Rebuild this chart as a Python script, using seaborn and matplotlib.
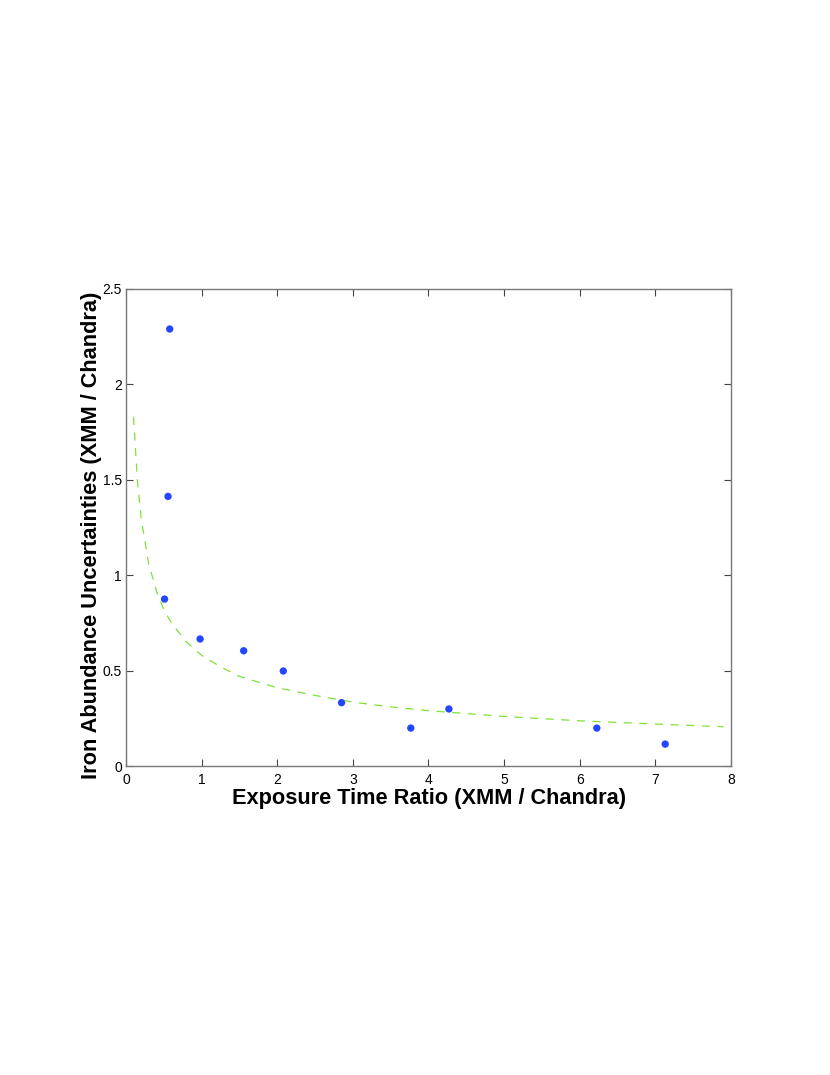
import matplotlib
matplotlib.use("Agg")
import matplotlib.pyplot as plt
import seaborn as sns
import pandas as pd

# Measured points
exposure_ratio = [0.578, 0.556, 0.51, 0.98, 1.556, 2.08, 2.85, 3.766, 4.27, 6.226, 7.13]
fe_uncertainty = [2.29, 1.413, 0.875, 0.666, 0.604, 0.498, 0.332, 0.199, 0.299, 0.199, 0.115]

# Dashed trend curve
curve_x = [0.1, 0.15, 0.2, 0.3, 0.4, 0.5, 0.6, 0.8, 1.0, 1.25, 1.5, 2.0, 2.5, 3.0, 3.5, 4.0, 5.0, 6.0, 7.0, 7.9]
curve_y = [1.83, 1.50, 1.30, 1.06, 0.92, 0.82, 0.75, 0.65, 0.58, 0.52, 0.47, 0.41, 0.37, 0.335, 0.31, 0.29, 0.26, 0.237, 0.22, 0.206]

x_ticks = [0, 1, 2, 3, 4, 5, 6, 7, 8]
y_ticks = [0, 0.5, 1, 1.5, 2, 2.5]
y_tick_labels = ["0", "0.5", "1", "1.5", "2", "2.5"]

sns.set_theme(style="white")
plt.rcParams["font.family"] = ["Liberation Sans", "DejaVu Sans"]
plt.rcParams["text.color"] = "black"
plt.rcParams["axes.labelcolor"] = "black"

fig = plt.figure(figsize=(8.3, 10.75), dpi=100)
ax = fig.add_axes([0.1518, 0.2874, 0.8807 - 0.1518, 0.7312 - 0.2874])

pts = pd.DataFrame({"x": exposure_ratio, "y": fe_uncertainty})
crv = pd.DataFrame({"x": curve_x, "y": curve_y})

sns.lineplot(data=crv, x="x", y="y", ax=ax, color="#7ee23a", linestyle=(0, (6.5, 6)),
             linewidth=0.9, sort=False)
sns.scatterplot(data=pts, x="x", y="y", ax=ax, color="#2446ff", s=28, edgecolor="none", zorder=3)

ax.set_xlim(0, 8)
ax.set_ylim(0, 2.5)
ax.set_xticks(x_ticks)
ax.set_xticklabels([str(t) for t in x_ticks])
ax.set_yticks(y_ticks)
ax.set_yticklabels(y_tick_labels)

ax.tick_params(direction="in", length=5, width=0.8, colors="#444444", labelcolor="black",
               labelsize=10, top=True, right=True, bottom=True, left=True, pad=3)
ax.tick_params(axis="x", pad=5)
for s in ax.spines.values():
    s.set_color("#777777")
    s.set_linewidth(1.0)

ax.set_xlabel("Exposure Time Ratio (XMM / Chandra)", fontsize=15.7, fontweight="bold")
ax.set_ylabel("Iron Abundance Uncertainties (XMM / Chandra)", fontsize=15.7, fontweight="bold")
ax.xaxis.label.set_va("top")
ax.xaxis.label.set_ha("center")
ax.xaxis.set_label_coords(0.5015, -0.047)
ax.yaxis.set_label_coords(-0.039, 0.484)
ax.grid(False)

fig.savefig("out.png", dpi=100)
